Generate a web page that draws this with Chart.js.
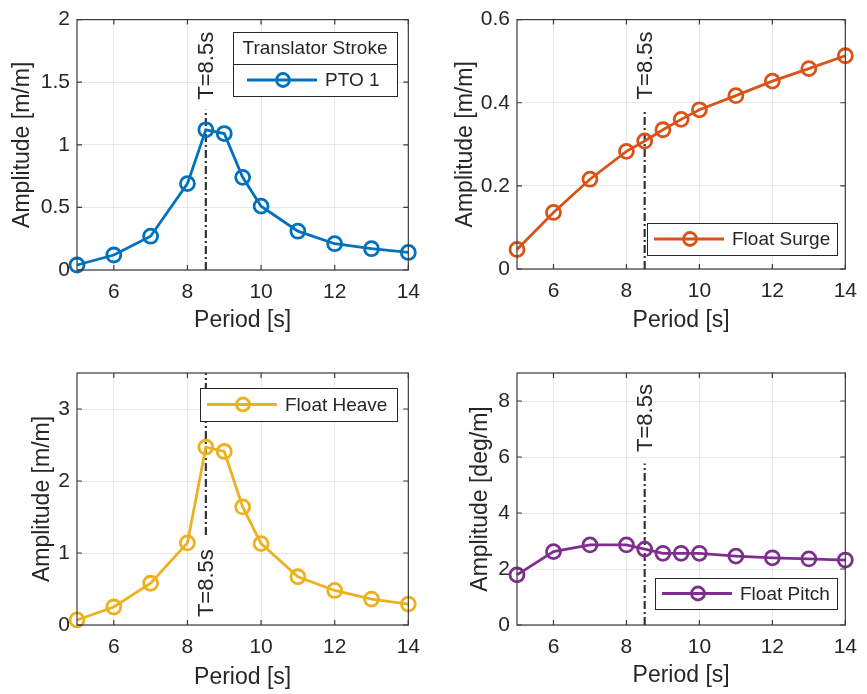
<!DOCTYPE html>
<html>
<head>
<meta charset="utf-8">
<script src="https://cdn.jsdelivr.net/npm/chart.js@4.4.0/dist/chart.umd.min.js"></script>
<style>
  body { margin: 0; background: #fff; }
  #wrap { position: relative; width: 867px; height: 694px; }
  canvas { position: absolute; }
</style>
</head>
<body>
<div id="wrap">
  <canvas id="c1" width="430" height="340" style="left:0;top:0"></canvas>
  <canvas id="c2" width="437" height="340" style="left:430px;top:0"></canvas>
  <canvas id="c3" width="430" height="354" style="left:0;top:340px"></canvas>
  <canvas id="c4" width="437" height="354" style="left:430px;top:340px"></canvas>
</div>
<script>
// data
const periods = [5, 6, 7, 8, 8.5, 9, 9.5, 10, 11, 12, 13, 14];
const pto1  = [0.04, 0.12, 0.27, 0.69, 1.12, 1.09, 0.74, 0.51, 0.31, 0.21, 0.17, 0.14];
const surge = [0.047, 0.136, 0.216, 0.283, 0.308, 0.335, 0.36, 0.383, 0.417, 0.452, 0.482, 0.513];
const heave = [0.07, 0.25, 0.58, 1.14, 2.47, 2.41, 1.64, 1.13, 0.67, 0.48, 0.36, 0.29];
const pitch = [1.79, 2.62, 2.86, 2.86, 2.71, 2.56, 2.56, 2.56, 2.46, 2.40, 2.36, 2.32];

const xTicks = [6, 8, 10, 12, 14];
const yTicks1 = [0, 0.5, 1, 1.5, 2];
const yTicks2 = [0, 0.2, 0.4, 0.6];
const yTicks3 = [0, 1, 2, 3];
const yTicks4 = [0, 2, 4, 6, 8];

const peakT = 8.5;
const peakLabel = 'T=8.5s';

const FONT = "'Liberation Sans', Arial, Helvetica, sans-serif";
const TXT = '#262626';

// matlab-ish box, inner ticks, rotated label, legend
const matlab = {
  id: 'matlab',
  afterDraw(chart, args, o) {
    const { ctx, chartArea: a, scales: { x, y } } = chart;
    ctx.save();

    // T=8.5s label
    ctx.save();
    ctx.translate(x.getPixelForValue(peakT), y.getPixelForValue(o.labelAt));
    ctx.rotate(-Math.PI / 2);
    ctx.font = '22px ' + FONT;
    ctx.fillStyle = TXT;
    ctx.textAlign = 'left';
    ctx.textBaseline = 'middle';
    ctx.fillText(peakLabel, 0, 1);
    ctx.restore();

    // box and inner ticks
    ctx.strokeStyle = '#3a3a3a';
    ctx.lineWidth = 1.2;
    ctx.strokeRect(a.left, a.top, a.width, a.height);
    ctx.beginPath();
    x.ticks.forEach(t => {
      const px = x.getPixelForValue(t.value);
      ctx.moveTo(px, a.bottom); ctx.lineTo(px, a.bottom - 5);
      ctx.moveTo(px, a.top); ctx.lineTo(px, a.top + 5);
    });
    y.ticks.forEach(t => {
      const py = y.getPixelForValue(t.value);
      ctx.moveTo(a.left, py); ctx.lineTo(a.left + 5, py);
      ctx.moveTo(a.right, py); ctx.lineTo(a.right - 5, py);
    });
    ctx.stroke();

    // legend
    const L = o.legend;
    const ds = chart.data.datasets[0];
    ctx.fillStyle = '#fff';
    ctx.fillRect(L.x, L.y, L.w, L.h);
    ctx.strokeStyle = '#262626';
    ctx.lineWidth = 1;
    ctx.strokeRect(L.x + 0.5, L.y + 0.5, L.w, L.h);
    ctx.font = '19px ' + FONT;
    ctx.fillStyle = TXT;
    ctx.textBaseline = 'middle';
    let cy = L.y + L.h / 2;
    if (L.title) {
      ctx.textAlign = 'center';
      ctx.fillText(L.title, L.x + L.w / 2, L.y + L.h / 4 + 1);
      ctx.beginPath();
      ctx.moveTo(L.x, L.y + L.h / 2 + 0.5);
      ctx.lineTo(L.x + L.w, L.y + L.h / 2 + 0.5);
      ctx.stroke();
      cy = L.y + L.h * 3 / 4;
    }
    ctx.strokeStyle = ds.borderColor;
    ctx.lineWidth = 2.8;
    ctx.beginPath();
    ctx.moveTo(L.x + L.pad, cy);
    ctx.lineTo(L.x + L.pad + 70, cy);
    ctx.stroke();
    ctx.beginPath();
    ctx.arc(L.x + L.pad + 36, cy, 6.5, 0, Math.PI * 2);
    ctx.stroke();
    ctx.textAlign = 'left';
    ctx.fillText(ds.label, L.x + L.pad + 78, cy + 1);

    ctx.restore();
  }
};

function makeChart(id, c) {
  return new Chart(document.getElementById(id), {
    type: 'line',
    data: {
      datasets: [
        {
          label: c.label,
          data: periods.map((p, i) => ({ x: p, y: c.values[i] })),
          borderColor: c.color,
          borderWidth: 2.8,
          pointRadius: 7,
          pointHoverRadius: 7,
          pointBorderWidth: 2.8,
          pointBorderColor: c.color,
          pointBackgroundColor: 'rgba(0,0,0,0)',
          tension: 0,
          clip: false
        },
        {
          label: 'T',
          data: [{ x: peakT, y: c.vline[0] }, { x: peakT, y: c.vline[1] }],
          borderColor: '#333',
          borderWidth: 2.2,
          borderDash: [8, 3, 2, 3],
          pointRadius: 0
        }
      ]
    },
    options: {
      responsive: false,
      animation: false,
      layout: { padding: { left: 0, top: c.top, right: c.right, bottom: 0 } },
      plugins: {
        legend: { display: false },
        tooltip: { enabled: false },
        matlab: { labelAt: c.labelAt, legend: c.legend }
      },
      scales: {
        x: {
          type: 'linear',
          min: 5, max: 14,
          afterBuildTicks: s => { s.ticks = xTicks.map(v => ({ value: v })); },
          afterFit: s => { s.height = c.xh; },
          grid: { color: 'rgba(0,0,0,0.09)', drawTicks: false },
          border: { display: false },
          ticks: { padding: 10, color: TXT, font: { size: 21, family: FONT } },
          title: { display: true, text: 'Period [s]', color: TXT,
                   font: { size: 23, family: FONT }, padding: { top: 0, bottom: c.xtp } }
        },
        y: {
          min: c.ymin, max: c.ymax,
          afterBuildTicks: s => { s.ticks = c.yTicks.map(v => ({ value: v })); },
          afterFit: s => { s.width = c.yw; },
          grid: { color: 'rgba(0,0,0,0.09)', drawTicks: false },
          border: { display: false },
          ticks: { padding: 7, color: TXT, font: { size: 21, family: FONT }, callback: v => String(v) },
          title: { display: true, text: c.ytitle, color: TXT,
                   font: { size: 23, family: FONT }, padding: { top: c.ytp, bottom: 0 } }
        }
      }
    },
    plugins: [matlab]
  });
}

makeChart('c1', {
  label: 'PTO 1', values: pto1, color: '#0072BD',
  ymin: 0, ymax: 2, yTicks: yTicks1, ytitle: 'Amplitude [m/m]',
  vline: [0, 1.28], labelAt: 1.36,
  top: 16, right: 18, xh: 70, yw: 77, xtp: 6, ytp: 9,
  legend: { x: 233, y: 32, w: 164, h: 64, pad: 14, title: 'Translator Stroke' }
});
makeChart('c2', {
  label: 'Float Surge', values: surge, color: '#D95319',
  ymin: 0, ymax: 0.6, yTicks: yTicks2, ytitle: 'Amplitude [m/m]',
  vline: [0, 0.38], labelAt: 0.408,
  top: 16, right: 14, xh: 71, yw: 87, xtp: 6, ytp: 22,
  legend: { x: 217, y: 223, w: 190, h: 32, pad: 7 }
});
makeChart('c3', {
  label: 'Float Heave', values: heave, color: '#EDB120',
  ymin: 0, ymax: 3.5, yTicks: yTicks3, ytitle: 'Amplitude [m/m]',
  vline: [1.25, 3.5], labelAt: 0.11,
  top: 33, right: 18, xh: 69, yw: 77, xtp: 3, ytp: 29,
  legend: { x: 200, y: 48, w: 197, h: 33, pad: 7 }
});
makeChart('c4', {
  label: 'Float Pitch', values: pitch, color: '#7E2F8E',
  ymin: 0, ymax: 9, yTicks: yTicks4, ytitle: 'Amplitude [deg/m]',
  vline: [0, 5.77], labelAt: 6.18,
  top: 33, right: 14, xh: 69, yw: 87, xtp: 5, ytp: 37,
  legend: { x: 225, y: 238, w: 182, h: 31, pad: 7 }
});
</script>
</body>
</html>
